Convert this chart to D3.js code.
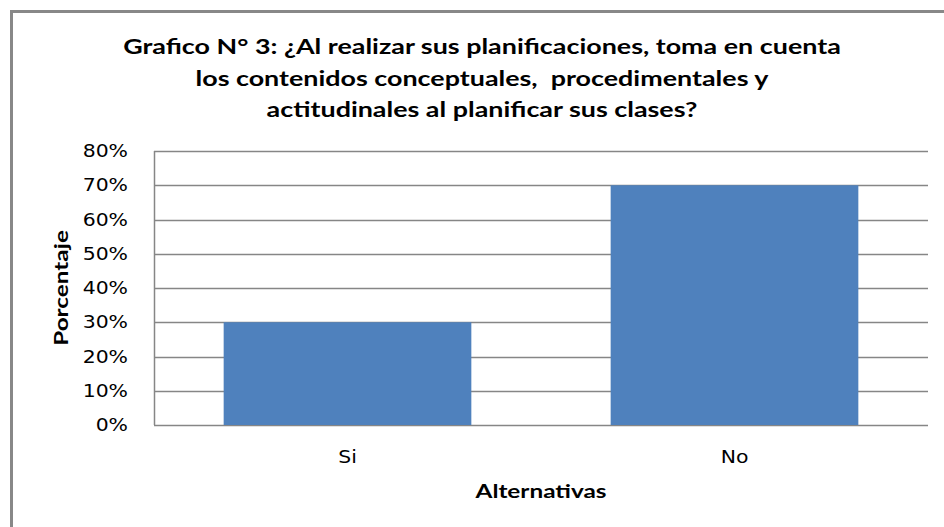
<!DOCTYPE html>
<html>
<head>
<meta charset="utf-8">
<script src="https://cdn.jsdelivr.net/npm/d3@7"></script>
<style>
  body { margin: 0; background: #fff; }
</style>
</head>
<body>
<script>
// chart values
const categories = ["Si", "No"];
const values = [0.30, 0.70];
const yTicks = [0, 0.1, 0.2, 0.3, 0.4, 0.5, 0.6, 0.7, 0.8];
const titleLines = [
  "Grafico N° 3: ¿Al realizar sus planificaciones, toma en cuenta",
  "los contenidos conceptuales,  procedimentales y",
  "actitudinales al planificar sus clases?"
];
const yLabel = "Porcentaje";
const xLabel = "Alternativas";

const width = 944, height = 527;
const margin = { top: 151, right: 16, bottom: 102, left: 154 };
const plotW = width - margin.left - margin.right;
const plotH = height - margin.top - margin.bottom;

// the original renders text a bit wider than the fonts we have
const titleStretch = 1.28;
const tickStretch = 1.2;

const svg = d3.select("body").append("svg")
  .attr("width", width)
  .attr("height", height);

// outer chart frame (clipped on right/bottom)
svg.append("path")
  .attr("d", `M11.5,${height} V11.5 H${width}`)
  .attr("fill", "none")
  .attr("stroke", "#888")
  .attr("stroke-width", 3);

const x = d3.scaleBand()
  .domain(categories)
  .range([0, plotW])
  .paddingInner(0.36)
  .paddingOuter(0.18);

const y = d3.scaleLinear()
  .domain([0, 0.8])
  .range([plotH, 0]);

const g = svg.append("g")
  .attr("transform", `translate(${margin.left},${margin.top})`);

// gridlines
g.selectAll(".grid")
  .data(yTicks)
  .enter()
  .append("line")
  .attr("x1", 0)
  .attr("x2", plotW)
  .attr("y1", (d) => Math.round(y(d)) + 0.5)
  .attr("y2", (d) => Math.round(y(d)) + 0.5)
  .attr("stroke", "#868686")
  .attr("stroke-width", 1.5);

// left axis line
g.append("line")
  .attr("x1", 0.5).attr("x2", 0.5)
  .attr("y1", 0).attr("y2", plotH)
  .attr("stroke", "#868686")
  .attr("stroke-width", 1.5);

// bars
g.selectAll(".bar")
  .data(values)
  .enter()
  .append("rect")
  .attr("x", (d, i) => x(categories[i]))
  .attr("width", x.bandwidth())
  .attr("y", (d) => y(d))
  .attr("height", (d) => plotH - y(d))
  .attr("fill", "#4f81bd");

// y tick labels
g.selectAll(".ytick")
  .data(yTicks)
  .enter()
  .append("text")
  .attr("transform", (d) => `translate(-26,${y(d)}) scale(${tickStretch},1)`)
  .attr("dy", "0.36em")
  .attr("text-anchor", "end")
  .style("font-family", "Verdana, 'DejaVu Sans', sans-serif")
  .style("font-size", "17px")
  .attr("fill", "#000")
  .text((d) => d3.format(".0%")(d));

// x tick labels
g.selectAll(".xtick")
  .data(categories)
  .enter()
  .append("text")
  .attr("transform", (d) => `translate(${x(d) + x.bandwidth() / 2},${plotH + 38}) scale(${tickStretch},1)`)
  .attr("text-anchor", "middle")
  .style("font-family", "Verdana, 'DejaVu Sans', sans-serif")
  .style("font-size", "17px")
  .attr("fill", "#000")
  .text((d) => d);

// title
svg.append("g")
  .selectAll("text")
  .data(titleLines)
  .enter()
  .append("text")
  .attr("transform", (d, i) => `translate(482,${54 + i * 31.5}) scale(${titleStretch},1)`)
  .attr("text-anchor", "middle")
  .style("white-space", "pre")
  .style("font-family", "Lato, 'Open Sans', sans-serif")
  .style("font-weight", "bold")
  .style("font-size", "21px")
  .attr("fill", "#000")
  .text((d) => d);

// axis titles
svg.append("text")
  .attr("transform", `translate(68,288) rotate(-90) scale(${titleStretch},1)`)
  .attr("text-anchor", "middle")
  .style("font-family", "Lato, 'Open Sans', sans-serif")
  .style("font-weight", "bold")
  .style("font-size", "19px")
  .attr("fill", "#000")
  .text(yLabel);

svg.append("text")
  .attr("transform", `translate(${margin.left + plotW / 2},498) scale(${titleStretch},1)`)
  .attr("text-anchor", "middle")
  .style("font-family", "Lato, 'Open Sans', sans-serif")
  .style("font-weight", "bold")
  .style("font-size", "19px")
  .attr("fill", "#000")
  .text(xLabel);
</script>
</body>
</html>
